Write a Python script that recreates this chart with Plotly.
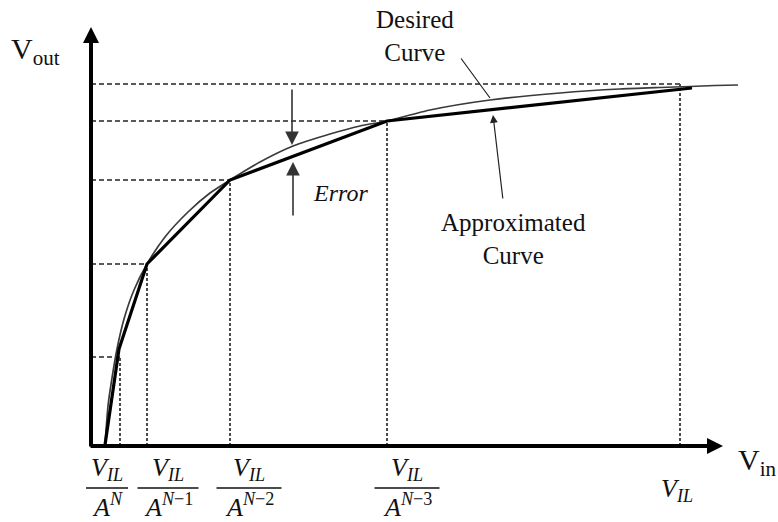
import plotly.graph_objects as go

# ---------------- data (units = px-equivalent from the axis corner) ----
desired_x = [14, 17, 21, 26, 33, 43, 56, 74, 97, 119, 139, 169, 202, 239, 269, 296, 339, 399, 469, 529, 569, 599, 624, 647]
desired_y = [1, 40, 68, 97, 127, 156, 182, 209, 234, 253, 266, 284, 300, 312, 320, 325, 336, 346, 353, 357, 358.5, 359.5, 360.5, 361]

approx_x = [14, 28, 56, 139, 296, 601]
approx_y = [1, 97, 182, 266, 325, 358]

guide_x = [29, 56, 139, 296, 589]
guide_y = [89, 182, 266, 325, 362]

tick_exponents = ["<i>N</i>", "<i>N</i>\u22121", "<i>N</i>\u22122", "<i>N</i>\u22123"]
tick_label_x = [16, 77, 158, 316]
tick_label_w = [42, 61, 65, 65]
last_tick_x = 586

SERIF = "'Liberation Serif', 'Times New Roman', 'DejaVu Serif', serif"

fig = go.Figure()

# dashed guides
for gx, gy in zip(guide_x, guide_y):
    fig.add_trace(go.Scatter(x=[0, gx], y=[gy, gy], mode="lines",
                             line=dict(color="#5a5a5a", width=2, dash="5px,3px"),
                             hoverinfo="skip", showlegend=False))
    fig.add_trace(go.Scatter(x=[gx, gx], y=[0, gy], mode="lines",
                             line=dict(color="#4a4a4a", width=2, dash="3px,2px"),
                             hoverinfo="skip", showlegend=False))

# desired curve
fig.add_trace(go.Scatter(x=desired_x, y=desired_y, mode="lines",
                         line=dict(color="#3a3a3a", width=1.7, shape="spline", smoothing=0.6),
                         hoverinfo="skip", showlegend=False))
# approximated curve
fig.add_trace(go.Scatter(x=approx_x, y=approx_y, mode="lines",
                         line=dict(color="#000000", width=3.2),
                         hoverinfo="skip", showlegend=False))

ann = []

def arrow(x, y, ax, ay, width, size, color, head=2):
    ann.append(dict(x=x, y=y, ax=ax, ay=ay, xref="x", yref="y", axref="x", ayref="y",
                    text="", showarrow=True, arrowhead=head, arrowsize=size,
                    arrowwidth=width, arrowcolor=color))

def text(x, y, t, size, italic=False, xanchor="center", yanchor="middle"):
    ann.append(dict(x=x, y=y, xref="x", yref="y", text=t, showarrow=False,
                    xanchor=xanchor, yanchor=yanchor,
                    font=dict(family=SERIF, size=size, color="#111111",
                              style="italic" if italic else "normal")))

# axes
arrow(0, 419, 0, -2, 4, 0.8, "#000000")
arrow(632, 0, -2, 0, 4, 0.8, "#000000")

# error arrows
arrow(201, 301, 201, 358, 1.6, 1.7, "#333333")
arrow(202, 284, 202, 229, 1.6, 1.7, "#333333")

# pointer lines
ann.append(dict(x=399, y=348, ax=369, ay=389, xref="x", yref="y", axref="x", ayref="y",
                text="", showarrow=True, arrowhead=0, arrowwidth=1.2, arrowcolor="#222222"))
arrow(402, 331, 412, 246, 1.2, 1.3, "#222222")

# labels
text(-56, 395, "V<sub>out</sub>", 30)
text(666, -16, "V<sub>in</sub>", 30)
text(324, 410, "Desired<br>Curve", 25)
text(422, 207, "Approximated<br>Curve", 25)
text(249, 253, "Error", 24, italic=True)

shapes = []
for i, (cx, w, e) in enumerate(zip(tick_label_x, tick_label_w, tick_exponents)):
    text(cx, -23, "<i>V</i><sub><i>IL</i></sub>", 26)
    text(cx, -59, "<i>A</i><sup>" + e + "</sup>", 26)
    shapes.append(dict(type="line", xref="x", yref="y", x0=cx - w / 2, x1=cx + w / 2,
                       y0=-42, y1=-42, line=dict(color="#111111", width=1.3)))
text(last_tick_x, -44, "<i>V</i><sub><i>IL</i></sub>", 26)

fig.update_layout(
    width=778, height=522,
    margin=dict(l=0, r=0, t=0, b=0),
    paper_bgcolor="white", plot_bgcolor="white",
    xaxis=dict(range=[-91, 687], visible=False, fixedrange=True),
    yaxis=dict(range=[-76, 446], visible=False, fixedrange=True),
    annotations=ann, shapes=shapes,
    showlegend=False,
)

fig.write_html("out.html")
